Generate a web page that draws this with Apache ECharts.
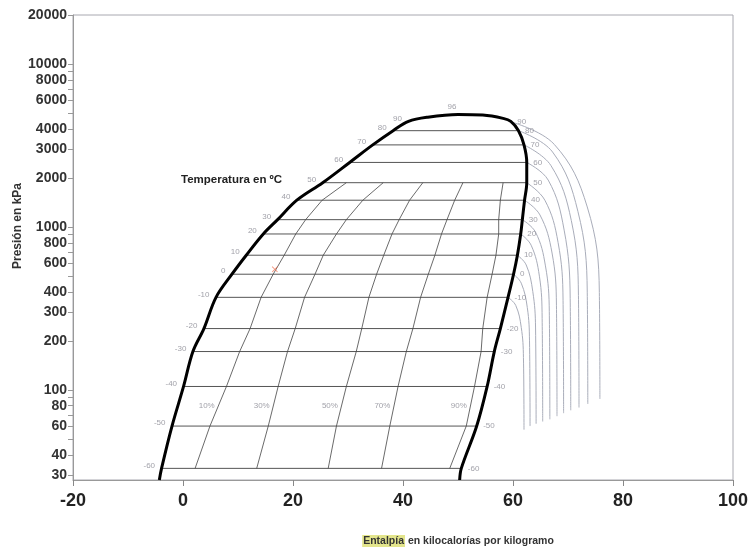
<!DOCTYPE html>
<html lang="es">
<head>
<meta charset="UTF-8">
<title>Diagrama presión-entalpía</title>
<script src="https://cdn.jsdelivr.net/npm/echarts@6.0.0/dist/echarts.min.js"></script>
<style>
  html, body { margin: 0; padding: 0; background: #fff; }
  #chart { width: 753px; height: 550px; }
</style>
</head>
<body>
<div id="chart"></div>
<script>
// temperaturas de saturación (ºC), presión (kPa) y entalpía de líquido / vapor (kcal/kg)
const temps = [-60, -50, -40, -30, -20, -10, 0, 10, 20, 30, 40, 50, 60, 70, 80, 90];
const satP  = [33, 60, 105, 172, 238, 370, 513, 671, 906, 1109, 1460, 1870, 2490, 3190, 3900, 4450];
const liqH  = [-3.9, -2.0, 0.1, 1.8, 3.8, 6.0, 8.9, 11.5, 14.6, 17.2, 20.7, 25.4, 30.3, 34.5, 38.2, 41.0];
const vapH  = [50.6, 53.4, 55.3, 56.6, 57.7, 59.1, 60.1, 60.8, 61.4, 61.7, 62.1, 62.5, 62.5, 62.0, 61.0, 59.6];

// punto crítico y puntos extra de la campana
const critT = 96, critH = 50.0, critP = 4900;
const domeTopLeft  = [[44.5, 4720]];
const domeTopRight = [[54.5, 4860], [58.2, 4640]];
const domeBottomLeft  = [-4.3, 28];
const domeBottomRight = [50.3, 28];

// líneas de título (calidad) desde -60 hasta 50 ºC
const qualityNames = ['10%', '30%', '50%', '70%', '90%'];
const q10 = [2.2, 4.9, 7.9, 10.3, 12.2, 14.2, 16.4, 18.4, 20.5, 22.3, 25.3, 29.7];
const q30 = [13.4, 15.5, 17.3, 19.0, 20.4, 22.1, 24.0, 25.5, 27.9, 29.7, 32.7, 36.4];
const q50 = [26.4, 27.9, 29.7, 31.5, 32.5, 33.8, 35.2, 36.5, 38.0, 39.3, 41.2, 43.6];
const q70 = [36.1, 37.6, 39.1, 40.6, 41.8, 43.2, 44.6, 45.8, 47.0, 48.0, 49.4, 50.9];
const q90 = [48.5, 51.5, 53.0, 54.2, 54.5, 55.3, 56.2, 56.9, 57.4, 57.4, 57.7, 58.2];

// isotermas en vapor sobrecalentado [h, P]
const sh90  = [[59.6, 4420], [67.5, 3214], [73.5, 1327], [75.7, 396], [75.8, 88]];
const sh80  = [[61.0, 3900], [67.2, 2884], [71.8, 1247], [73.5, 398], [73.6, 82]];
const sh70  = [[62.0, 3190], [66.9, 2382], [70.6, 1096], [71.9, 380], [72.0, 78]];
const sh60  = [[62.5, 2490], [66.4, 1941], [69.3, 957], [70.4, 363], [70.5, 75]];
const sh50  = [[62.5, 1870], [65.8, 1459], [68.2, 802], [69.1, 355], [69.2, 72]];
const sh40  = [[62.1, 1460], [64.9, 1186], [67.1, 692], [67.9, 331], [68.0, 69]];
const sh30  = [[61.7, 1109], [64.1, 929], [65.9, 577], [66.6, 302], [66.7, 66]];
const sh20  = [[61.4, 906], [63.3, 773], [64.8, 499], [65.3, 275], [65.4, 64]];
const sh10  = [[60.8, 671], [62.4, 585], [63.6, 401], [64.1, 240], [64.2, 62]];
const sh0   = [[60.1, 513], [61.5, 452], [62.6, 320], [63.0, 200], [63.1, 60]];
const shM10 = [[59.1, 370], [60.5, 330], [61.5, 242], [61.9, 158], [62.0, 57]];

// marca roja
const redMark = [16.7, 550];

// ejes
const xTicks = [-20, 0, 20, 40, 60, 80, 100];
const pLabels = [30, 40, 60, 80, 100, 200, 300, 400, 600, 800, 1000, 2000, 3000, 4000, 6000, 8000, 10000, 20000];
const pMinor = [50, 70, 90, 500, 700, 900, 5000, 7000, 9000];

const FONT = '"Liberation Sans", Arial, sans-serif';
const chart = echarts.init(document.getElementById('chart'));

const series = [];

// isotermas dentro de la campana
temps.forEach((t, i) => {
    if (t > 80) return;
    series.push({
        type: 'line', yAxisIndex: 0, symbol: 'none', silent: true, z: 2,
        data: [[liqH[i], satP[i]], [vapH[i], satP[i]]],
        lineStyle: { color: '#555', width: 1 }
    });
});

// líneas de calidad
[q10, q30, q50, q70, q90].forEach(q => {
    series.push({
        type: 'line', yAxisIndex: 0, symbol: 'none', silent: true, z: 2,
        data: q.map((h, i) => [h, satP[i]]),
        lineStyle: { color: '#444', width: 0.8 }
    });
});

// isotermas de sobrecalentamiento
[sh90, sh80, sh70, sh60, sh50, sh40, sh30, sh20, sh10, sh0, shM10].forEach(c => {
    series.push({
        type: 'line', yAxisIndex: 0, symbol: 'none', silent: true, z: 2, smooth: 0.4,
        data: c,
        lineStyle: { color: '#a9adba', width: 1 }
    });
});

// campana de saturación
const dome = [domeBottomLeft]
    .concat(temps.map((t, i) => [liqH[i], satP[i]]))
    .concat(domeTopLeft)
    .concat([[critH, critP]])
    .concat(domeTopRight)
    .concat(temps.map((t, i) => [vapH[i], satP[i]]).reverse())
    .concat([domeBottomRight]);
series.push({
    type: 'line', yAxisIndex: 0, symbol: 'none', silent: true, z: 5, smooth: 0.35,
    data: dome,
    lineStyle: { color: '#000', width: 3 }
});

const smallLabel = { show: true, fontSize: 8, color: '#8a8a94', formatter: '{b}', fontFamily: FONT };
const invisible = { color: 'rgba(0,0,0,0)' };

// etiquetas de temperatura
series.push({
    type: 'scatter', yAxisIndex: 0, symbolSize: 1, itemStyle: invisible, silent: true, z: 6,
    data: temps.map((t, i) => ({ name: String(t), value: [liqH[i], satP[i]] })),
    label: Object.assign({ position: 'left', distance: 6, offset: [0, -3] }, smallLabel)
});
series.push({
    type: 'scatter', yAxisIndex: 0, symbolSize: 1, itemStyle: invisible, silent: true, z: 6,
    data: temps.map((t, i) => ({ name: String(t), value: [vapH[i], satP[i]] })),
    label: Object.assign({ position: 'right', distance: 6 }, smallLabel)
});
series.push({
    type: 'scatter', yAxisIndex: 0, symbolSize: 1, itemStyle: invisible, silent: true, z: 6,
    data: [{ name: String(critT), value: [critH, critP] }],
    label: Object.assign({ position: 'top', distance: 3, offset: [-6, 0] }, smallLabel)
});

// etiquetas de calidad, entre -40 y -50 ºC
series.push({
    type: 'scatter', yAxisIndex: 0, symbolSize: 1, itemStyle: invisible, silent: true, z: 6,
    data: [q10, q30, q50, q70, q90].map((q, k) => ({
        name: qualityNames[k],
        value: [(q[1] + q[2]) / 2, Math.sqrt(satP[1] * satP[2])]
    })),
    label: Object.assign({ position: 'left', distance: 3 }, smallLabel)
});

// marca roja
series.push({
    type: 'scatter', yAxisIndex: 0, silent: true, z: 7,
    symbol: 'path://M0,1L1,0L5,4L9,0L10,1L6,5L10,9L9,10L5,6L1,10L0,9L4,5Z',
    symbolSize: 6, itemStyle: { color: '#f0785a' },
    data: [redMark]
});

const option = {
    animation: false,
    backgroundColor: '#fff',
    textStyle: { fontFamily: FONT },
    grid: {
        left: 73, right: 20, top: 15, bottom: 70,
        show: true, borderColor: '#a8a8b0', borderWidth: 1,
        containLabel: false, outerBoundsMode: 'none'
    },
    xAxis: {
        type: 'value', min: -20, max: 100, interval: 20,
        axisLine: { show: true, onZero: false, lineStyle: { color: '#999' } },
        axisTick: { show: true, length: 6, customValues: xTicks, lineStyle: { color: '#888' } },
        splitLine: { show: false },
        axisLabel: {
            fontSize: 18, fontWeight: 'bold', color: '#222', margin: 12,
            showMinLabel: true, showMaxLabel: true, fontFamily: FONT
        }
    },
    yAxis: [
        { type: 'log', logBase: 10, min: 28, max: 20000, show: false },
        {
            type: 'value', position: 'left',
            min: Math.log10(28), max: Math.log10(20000),
            axisLine: { show: true, onZero: false, lineStyle: { color: '#999' } },
            axisTick: {
                show: true, length: 5,
                customValues: pLabels.concat(pMinor).map(Math.log10),
                lineStyle: { color: '#999' }
            },
            axisLabel: {
                customValues: pLabels.map(Math.log10),
                formatter: v => String(Math.round(Math.pow(10, v))),
                fontSize: 14, fontWeight: 'bold', color: '#333', margin: 6, fontFamily: FONT
            },
            splitLine: { show: false }
        }
    ],
    graphic: [
        {
            type: 'text', x: 18, y: 226, rotation: Math.PI / 2, silent: true,
            style: {
                text: 'Presión en kPa', fill: '#333', align: 'center', verticalAlign: 'middle',
                font: 'bold 12px "Liberation Sans", Arial, sans-serif'
            }
        },
        {
            type: 'text', x: 181, y: 180, silent: true,
            style: {
                text: 'Temperatura en ºC', fill: '#222', align: 'left', verticalAlign: 'middle',
                font: 'bold 11.5px "Liberation Sans", Arial, sans-serif'
            }
        },
        {
            type: 'text', x: 458, y: 541, silent: true,
            style: {
                text: '{hl|Entalpía} en kilocalorías por kilogramo',
                fill: '#333', align: 'center', verticalAlign: 'middle',
                font: 'bold 10.5px "Liberation Sans", Arial, sans-serif',
                rich: {
                    hl: {
                        backgroundColor: '#e3e58c', fill: '#333', padding: [1, 1, 0, 1],
                        font: 'bold 10.5px "Liberation Sans", Arial, sans-serif'
                    }
                }
            }
        }
    ],
    series: series
};

chart.setOption(option);
</script>
</body>
</html>
